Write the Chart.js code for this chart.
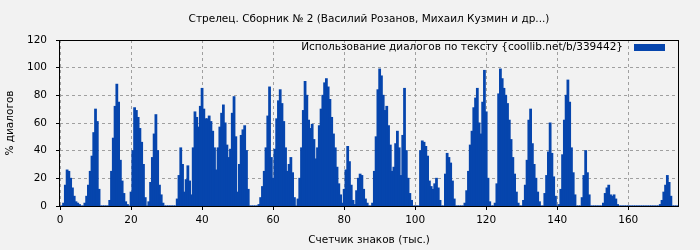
<!DOCTYPE html>
<html>
<head>
<meta charset="utf-8">
<script src="https://cdn.jsdelivr.net/npm/chart.js@4.4.1/dist/chart.umd.min.js"></script>
<style>
html, body { margin: 0; padding: 0; background: #f2f2f2; }
canvas { display: block; }
</style>
</head>
<body>
<canvas id="chart" width="700" height="250"></canvas>
<script>
const chartTitle = "Стрелец. Сборник № 2 (Василий Розанов, Михаил Кузмин и др...)";
const seriesLabel = "Использование диалогов по тексту {coollib.net/b/339442}";
const xTitle = "Счетчик знаков (тыс.)";
const yTitle = "% диалогов";

// thousands of characters, one reading every half thousand
const xStart = 0;
const xStep = 0.5;
const dialogShare = [
    0, 0, 2, 15, 26, 25, 20, 13, 7, 3, 2, 1, 0, 0, 2, 7, 15, 25, 36, 53,
    70, 61, 12, 0, 0, 0, 0, 0, 4, 25, 49, 72, 88, 75, 33, 18, 9, 3, 1, 0,
    10, 40, 71, 69, 64, 56, 46, 30, 6, 0, 3, 17, 35, 52, 66, 40, 15, 8, 2, 0,
    0, 0, 0, 0, 0, 0, 5, 22, 42, 30, 10, 19, 29, 18, 8, 42, 68, 64, 57, 72,
    85, 70, 63, 63, 65, 61, 54, 42, 26, 42, 57, 67, 73, 60, 44, 35, 41, 67, 79, 50,
    10, 30, 51, 55, 58, 40, 12, 0, 0, 0, 0, 0, 1, 6, 14, 25, 42, 65, 86, 35,
    20, 41, 63, 76, 84, 74, 61, 42, 25, 30, 35, 24, 6, 0, 5, 20, 42, 69, 90, 80,
    62, 56, 59, 48, 34, 42, 58, 70, 80, 89, 92, 86, 77, 64, 52, 42, 28, 16, 8, 2,
    12, 26, 43, 32, 15, 4, 1, 11, 20, 23, 22, 12, 5, 2, 0, 0, 2, 25, 50, 84,
    99, 94, 80, 69, 72, 58, 44, 25, 28, 45, 54, 42, 22, 51, 85, 40, 20, 9, 4, 0,
    0, 0, 0, 40, 47, 46, 43, 36, 18, 14, 12, 16, 20, 13, 4, 0, 0, 23, 38, 35,
    31, 18, 5, 0, 0, 0, 0, 0, 2, 11, 25, 44, 54, 71, 78, 85, 60, 52, 75, 98,
    68, 20, 3, 0, 0, 2, 16, 81, 99, 92, 85, 80, 74, 62, 48, 35, 23, 10, 2, 0,
    0, 4, 15, 33, 62, 70, 45, 30, 20, 10, 3, 0, 0, 9, 22, 39, 60, 38, 21, 7,
    0, 1, 12, 37, 62, 80, 91, 75, 42, 24, 8, 0, 0, 0, 6, 22, 40, 24, 8, 0,
    0, 0, 0, 0, 0, 0, 2, 9, 13, 15, 8, 7, 8, 5, 1, 0, 0, 0, 0, 0,
    0, 0, 0, 0, 0, 0, 0, 0, 0, 0, 0, 0, 0, 0, 0, 0, 0, 0, 1, 4,
    10, 15, 22, 17, 7, 0, 0, 0, 0
];
const xTicks = [0, 20, 40, 60, 80, 100, 120, 140, 160];
const yTicks = [0, 20, 40, 60, 80, 100, 120];

const barColor = "#0645ad";
const font = '10.5px "DejaVu Sans"';

const points = dialogShare.map((v, i) => ({ x: xStart + i * xStep, y: v }));

// title, axis names, frame and the legend inside the plot
const decor = {
    id: "decor",
    beforeDraw(chart) {
        const ctx = chart.ctx;
        ctx.save();
        ctx.fillStyle = "#f2f2f2";
        ctx.fillRect(0, 0, chart.width, chart.height);
        ctx.restore();
    },
    afterDraw(chart) {
        const ctx = chart.ctx;
        const a = chart.chartArea;
        const midX = (a.left + a.right) / 2;
        ctx.save();
        ctx.strokeStyle = "#000";
        ctx.lineWidth = 1;
        ctx.strokeRect(a.left - 0.5, a.top + 0.5, a.right - a.left + 1, a.bottom - a.top);

        ctx.fillStyle = "#000";
        ctx.font = font;
        ctx.textAlign = "center";
        ctx.textBaseline = "middle";
        ctx.fillText(chartTitle, midX, 19);
        ctx.fillText(xTitle, midX, 240);

        ctx.textAlign = "right";
        ctx.fillText(seriesLabel, a.right - 55, a.top + 7);
        ctx.fillStyle = barColor;
        ctx.fillRect(a.right - 44, a.top + 4, 31, 7);

        ctx.fillStyle = "#000";
        ctx.textAlign = "center";
        ctx.translate(10, (a.top + a.bottom) / 2);
        ctx.rotate(-Math.PI / 2);
        ctx.fillText(yTitle, 0, 0);
        ctx.restore();
    }
};

new Chart(document.getElementById("chart"), {
    type: "bar",
    data: {
        datasets: [{
            label: seriesLabel,
            data: points,
            backgroundColor: barColor,
            borderWidth: 0,
            barPercentage: 1,
            categoryPercentage: 1,
            inflateAmount: 0.5
        }]
    },
    options: {
        responsive: false,
        animation: false,
        events: [],
        layout: { padding: { left: 0, right: 22, top: 40, bottom: 0 } },
        plugins: {
            legend: { display: false },
            title: { display: false },
            tooltip: { enabled: false }
        },
        scales: {
            x: {
                type: "linear",
                min: 0,
                max: 174,
                offset: false,
                afterBuildTicks: axis => { axis.ticks = xTicks.map(v => ({ value: v })); },
                afterFit: scale => { scale.height = 44; },
                grid: { offset: false, color: "#a0a0a0", drawTicks: true, tickLength: 4, tickColor: "#000", tickBorderDash: [1, 0] },
                border: { display: false, dash: [3, 3] },
                ticks: { font: { family: "DejaVu Sans", size: 10.5 }, color: "#000", padding: 4, maxRotation: 0 }
            },
            y: {
                min: 0,
                max: 120,
                afterBuildTicks: axis => { axis.ticks = yTicks.map(v => ({ value: v })); },
                afterFit: scale => { scale.width = 60; },
                grid: { color: "#a0a0a0", drawTicks: true, tickLength: 4, tickColor: "#000", tickBorderDash: [1, 0] },
                border: { display: false, dash: [3, 3] },
                ticks: { font: { family: "DejaVu Sans", size: 10.5 }, color: "#000", padding: 9 }
            }
        }
    },
    plugins: [decor]
});
</script>
</body>
</html>
